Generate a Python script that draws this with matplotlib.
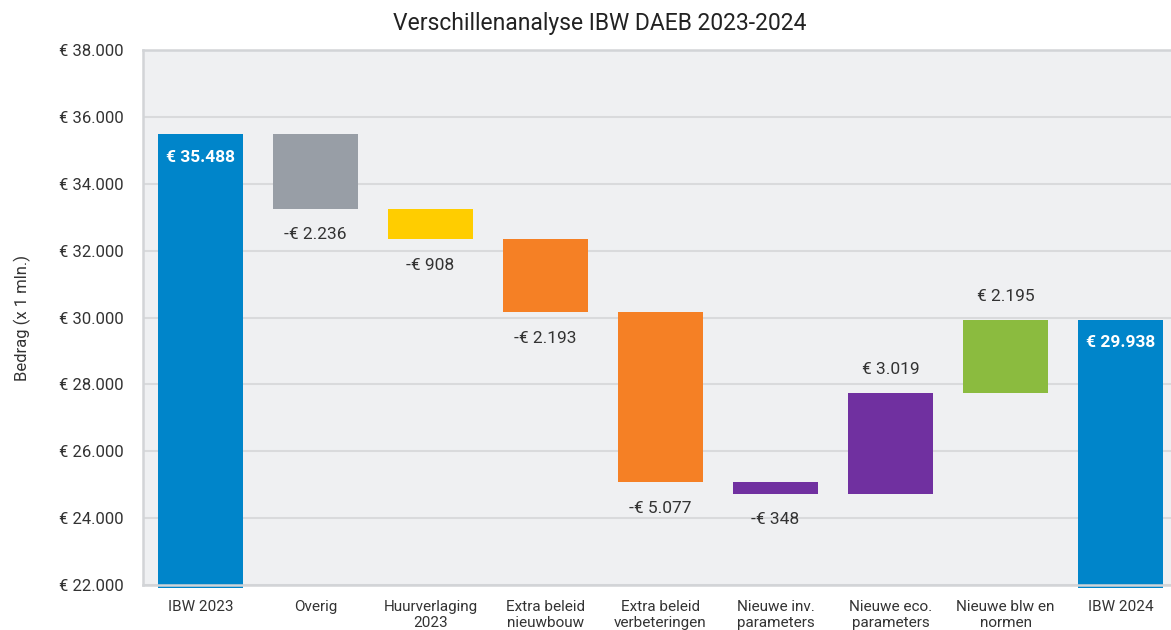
import numpy as np
import matplotlib.pyplot as plt

# ── data ─────────────────────────────────────────────────────────────────────
categories = ['IBW 2023', 'Overig', 'Huurverlaging\n2023', 'Extra beleid\nnieuwbouw',
              'Extra beleid\nverbeteringen', 'Nieuwe inv.\nparameters',
              'Nieuwe eco.\nparameters', 'Nieuwe blw en\nnormen', 'IBW 2024']
start_value = 35488
changes = [-2236, -908, -2193, -5077, -348, 3019, 2195]
end_value = 29938
yticks = [22000, 24000, 26000, 28000, 30000, 32000, 34000, 36000, 38000]

colors = ['#0085CA', '#989EA6', '#FFCD00', '#F58025', '#F58025',
          '#7030A0', '#7030A0', '#8BBB3F', '#0085CA']


def euro(v):
    s = f"€ {abs(v):,}".replace(",", ".")
    return "-" + s if v < 0 else s


plt.rcParams['font.family'] = ['Roboto', 'DejaVu Sans']

fig = plt.figure(figsize=(11.71, 6.3), dpi=100)
ax = fig.add_axes([0.1221, 0.0714, 0.8839, 0.8492])
ax.set_facecolor('#EFF0F2')

ymin, ymax = 22000, 38000
ax.set_ylim(ymin, ymax)
ax.set_xlim(-0.5, len(categories) - 0.5)

x = np.arange(len(categories))
w = 0.74

# start bar
ax.bar(x[0], start_value - 21920, bottom=21920, width=w, color=colors[0],
       zorder=2, clip_on=False)
ax.text(x[0], start_value - 700, euro(start_value), ha='center', va='center',
        color='white', fontsize=12.5, fontweight='bold', zorder=4)

# intermediate bars
level = start_value
for i, d in enumerate(changes, start=1):
    lo, hi = min(level, level + d), max(level, level + d)
    ax.bar(x[i], hi - lo, bottom=lo, width=w, color=colors[i], zorder=2)
    if d < 0:
        ax.text(x[i], lo - 780, euro(d), ha='center', va='center',
                color='#333333', fontsize=12.5, zorder=4)
    else:
        ax.text(x[i], hi + 700, euro(d), ha='center', va='center',
                color='#333333', fontsize=12.5, zorder=4)
    level += d

# end bar
ax.bar(x[-1], end_value - 21920, bottom=21920, width=w, color=colors[-1],
       zorder=2, clip_on=False)
ax.text(x[-1], end_value - 700, euro(end_value), ha='center', va='center',
        color='white', fontsize=12.5, fontweight='bold', zorder=4)

# axes styling
ax.set_yticks(yticks)
ax.set_yticklabels([euro(t) for t in yticks], fontsize=12, color='#333333')
ax.set_xticks(x)
ax.set_xticklabels(categories, fontsize=11, color='#333333', linespacing=1.15)
ax.tick_params(length=0)
ax.tick_params(axis='y', pad=14)
ax.tick_params(axis='x', pad=11)
ax.yaxis.grid(True, color='#D9DADC', linewidth=1.5, zorder=1)
ax.set_axisbelow(True)

for side in ['left', 'top', 'bottom']:
    ax.spines[side].set_color('#D2D4D7')
    ax.spines[side].set_linewidth(1.8)
    ax.spines[side].set_zorder(3)
ax.spines['right'].set_visible(False)

ax.set_ylabel('Bedrag (x 1 mln.)', fontsize=12, color='#333333', labelpad=20)
fig.text(0.512, 0.963, 'Verschillenanalyse IBW DAEB 2023-2024', ha='center',
         va='center', fontsize=16.5, color='#222222')

fig.savefig('out.png', dpi=100)
